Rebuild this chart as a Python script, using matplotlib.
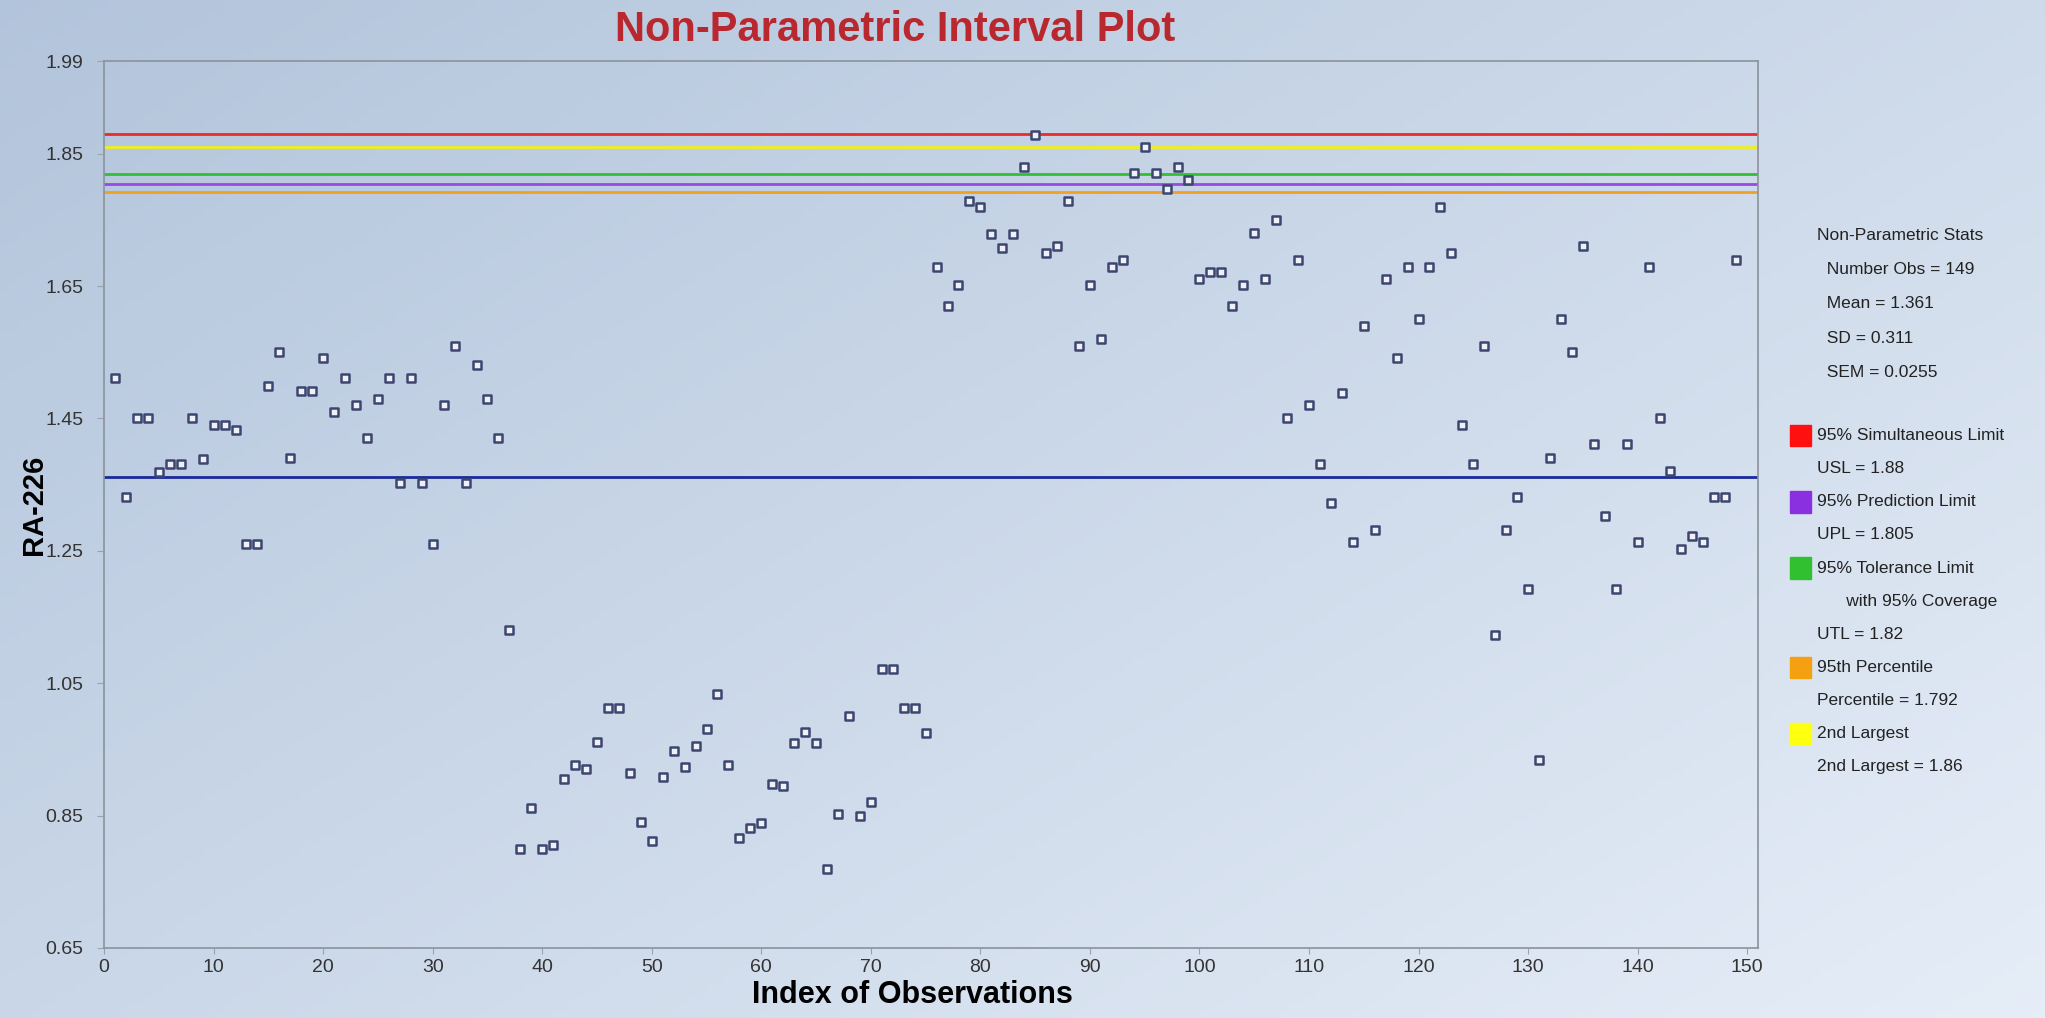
import numpy as np
import matplotlib
matplotlib.use("Agg")
import matplotlib.pyplot as plt
from matplotlib.patches import Rectangle

plt.rcParams['font.family'] = ['Liberation Sans', 'DejaVu Sans']

# RA-226 values, index 1..149
ra226 = [1.511, 1.332, 1.45, 1.45, 1.369, 1.381, 1.381, 1.45, 1.389, 1.44,
         1.44, 1.432, 1.261, 1.261, 1.499, 1.55, 1.391, 1.491, 1.491, 1.541,
         1.46, 1.511, 1.47, 1.421, 1.48, 1.511, 1.352, 1.511, 1.352, 1.261,
         1.47, 1.56, 1.352, 1.531, 1.48, 1.421, 1.131, 0.80, 0.861, 0.80,
         0.806, 0.906, 0.926, 0.92, 0.961, 1.013, 1.013, 0.914, 0.841, 0.812,
         0.908, 0.948, 0.924, 0.955, 0.981, 1.033, 0.926, 0.816, 0.831, 0.839,
         0.898, 0.894, 0.959, 0.977, 0.959, 0.77, 0.853, 1.001, 0.849, 0.871,
         1.072, 1.072, 1.013, 1.013, 0.975, 1.679, 1.62, 1.652, 1.779, 1.769,
         1.728, 1.708, 1.728, 1.83, 1.878, 1.70, 1.71, 1.779, 1.56, 1.652,
         1.57, 1.679, 1.689, 1.821, 1.86, 1.821, 1.797, 1.83, 1.81, 1.661,
         1.671, 1.671, 1.62, 1.652, 1.73, 1.661, 1.75, 1.45, 1.689, 1.47,
         1.381, 1.322, 1.489, 1.263, 1.59, 1.282, 1.661, 1.541, 1.679, 1.60,
         1.679, 1.769, 1.70, 1.44, 1.381, 1.56, 1.123, 1.282, 1.332, 1.192,
         0.934, 1.391, 1.60, 1.55, 1.71, 1.411, 1.302, 1.192, 1.411, 1.263,
         1.679, 1.45, 1.371, 1.253, 1.273, 1.263, 1.332, 1.332, 1.689]
obs_index = list(range(1, len(ra226) + 1))

# horizontal limit lines
limit_names = ["USL", "2nd Largest", "UTL", "UPL", "Percentile"]
limit_values = [1.88, 1.86, 1.82, 1.805, 1.792]
limit_colors = ["#f02828", "#eeee20", "#30c030", "#9a48e8", "#f2a020"]
mean_value = 1.361

y_ticks = [0.65, 0.85, 1.05, 1.25, 1.45, 1.65, 1.85, 1.99]
x_ticks = list(range(0, 151, 10))

stats_lines = ["Non-Parametric Stats", "  Number Obs = 149", "  Mean = 1.361",
               "  SD = 0.311", "  SEM = 0.0255"]
legend_items = [("#ff1010", ["95% Simultaneous Limit", "USL = 1.88"]),
                ("#8a30e0", ["95% Prediction Limit", "UPL = 1.805"]),
                ("#30c030", ["95% Tolerance Limit", "      with 95% Coverage", "UTL = 1.82"]),
                ("#f5a010", ["95th Percentile", "Percentile = 1.792"]),
                ("#ffff10", ["2nd Largest", "2nd Largest = 1.86"])]

fig = plt.figure(figsize=(20.45, 10.18), dpi=100)

# gradient background over the whole figure
bg = fig.add_axes([0, 0, 1, 1], zorder=-10)
gx, gy = np.meshgrid(np.linspace(0, 1, 300), np.linspace(0, 1, 150))
t = 0.55 * gx + 0.45 * gy
c0 = np.array([0.70, 0.77, 0.86])
c1 = np.array([0.90, 0.93, 0.97])
grad = c0[None, None, :] * (1 - t[..., None]) + c1[None, None, :] * t[..., None]
bg.imshow(grad, aspect='auto', extent=[0, 1, 0, 1], origin='upper')
bg.axis('off')

ax = fig.add_axes([0.0509, 0.0688, 0.8088, 0.8712])
ax.set_facecolor('none')

for v, c in zip(limit_values, limit_colors):
    ax.axhline(v, color=c, lw=2, zorder=2)
ax.axhline(mean_value, color="#1a2a9a", lw=2, zorder=2)

ax.scatter(obs_index, ra226, marker='s', s=40, facecolor='#eef1f8',
           edgecolor='#3c4670', linewidth=1.8, zorder=3)

ax.set_xlim(0, 151)
ax.set_ylim(0.65, 1.99)
ax.set_xticks(x_ticks)
ax.set_yticks(y_ticks)
ax.set_yticklabels(["%.2f" % v for v in y_ticks])
ax.tick_params(axis='both', labelsize=14, colors='#333333', length=4, width=0.8)
ax.tick_params(axis='y', length=5, pad=10, color='#9aa2aa')
ax.tick_params(axis='x', pad=4, color='#9aa2aa')
for s in ax.spines.values():
    s.set_color('#8a939c')
    s.set_linewidth(1.2)

ax.set_xlabel("Index of Observations", fontsize=22, fontweight='bold')
ax.xaxis.set_label_coords(0.489, -0.036)
ax.set_ylabel("RA-226", fontsize=21, fontweight='bold')
ax.yaxis.set_label_coords(-0.034, 0.5)
fig.text(0.4376, 0.971, "Non-Parametric Interval Plot", color="#b8282e",
         fontsize=30, fontweight='bold', ha='center', va='center')

# stats block on the right
y = 0.769
for line in stats_lines:
    fig.text(0.8885, y, line, fontsize=12.5, color='#222222', va='center')
    y -= 0.0338
y = 0.572
for col, lines in legend_items:
    fig.patches.append(Rectangle((0.8752, y - 0.0105), 0.0102, 0.021,
                                 transform=fig.transFigure, color=col))
    for line in lines:
        fig.text(0.8885, y, line, fontsize=12.5, color='#222222', va='center')
        y -= 0.0325

plt.savefig("out.png", dpi=100)
